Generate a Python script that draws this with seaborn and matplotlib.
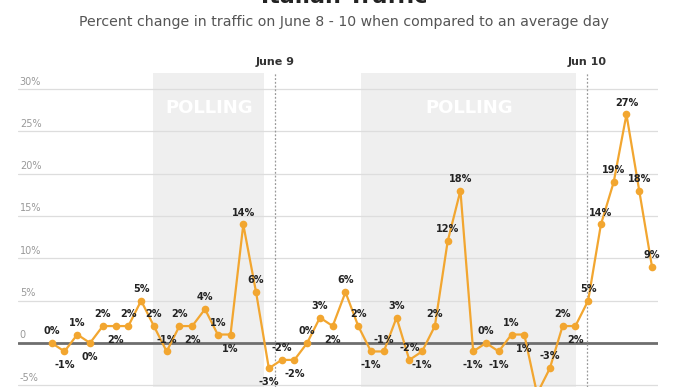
import matplotlib
matplotlib.use("Agg")
import matplotlib.pyplot as plt
import seaborn as sns
import numpy as np

# =====================================================
# DATA
# =====================================================

hours = list(range(48))

traffic = [0, -1, 1, 0, 2, 2, 2, 5, 2, -1, 2, 2, 4, 1, 1,
           14, 6, -3, -2, -2, 0, 3, 2, 6, 2, -1, -1, 3, -2, -1,
           2, 12, 18, -1, 0, -1, 1, 1, -6, -3, 2, 2, 5, 14, 19,
           27, 18, 9]

# label side for each point: 1 = above, -1 = below
label_side = [1, -1, 1, -1, 1, -1, 1, 1, 1, 1, 1, -1, 1, 1, -1,
              1, 1, -1, 1, -1, 1, 1, -1, 1, 1, -1, 1, 1, 1, -1,
              1, 1, 1, -1, 1, -1, 1, -1, 1, 1, 1, -1, 1, 1, 1,
              1, 1, 1]

polling_spans = [(7.95, 16.65), (24.25, 41.05)]
day_marks = [17.5, 41.95]
day_labels = ["June 9", "Jun 10"]

yticks = [-5, 0, 5, 10, 15, 20, 25, 30]
ytick_labels = ["-5%", "0", "5%", "10%", "15%", "20%", "25%", "30%"]

ORANGE = "#F2A630"

# =====================================================
# PLOT
# =====================================================

sns.set_style("white")
plt.rcParams["font.family"] = ["DejaVu Sans"]

fig = plt.figure(figsize=(6.88, 3.87), dpi=100)
ax = fig.add_axes([18 / 688, 0, 640 / 688, 314 / 387])

ax.set_xlim(-2.64, 47.47)
ax.set_ylim(-5.2, 31.9)

for a, b in polling_spans:
    ax.axvspan(a, b, color="#EFEFEF", zorder=0, lw=0)
    ax.text((a + b) / 2, 27.8, "POLLING", color="white",
            fontsize=13, fontweight="bold", ha="center", va="center", zorder=1)

for yv in yticks:
    if yv != 0:
        ax.axhline(yv, color="#DDDDDD", lw=0.9, zorder=1)
ax.axhline(0, color="#6E6E6E", lw=2, zorder=2)

for yv, lab in zip(yticks, ytick_labels):
    ax.text(-2.5, yv + 0.3, lab, color="#999999", fontsize=7,
            ha="left", va="bottom", zorder=3)

for xv in day_marks:
    ax.axvline(xv, color="#999999", lw=0.9, ls=(0, (1.5, 1.5)), zorder=2)

for xv, lab in zip(day_marks, day_labels):
    ax.text(xv, 32.6, lab, fontsize=8, fontweight="bold", color="#333333",
            ha="center", va="bottom", clip_on=False)

sns.lineplot(x=hours, y=traffic, ax=ax, color=ORANGE, lw=1.6,
             marker="o", markersize=5.5, markeredgewidth=0,
             markerfacecolor=ORANGE, zorder=4)

for xv, yv, side in zip(hours, traffic, label_side):
    ax.annotate(f"{yv}%", (xv, yv),
                xytext=(0, 5 if side > 0 else -6.5),
                textcoords="offset points",
                ha="center", va="bottom" if side > 0 else "top",
                fontsize=7, fontweight="bold", color="#222222", zorder=5)

ax.set_xticks([])
ax.set_yticks([])
ax.set_xlabel("")
ax.set_ylabel("")
sns.despine(ax=ax, left=True, bottom=True)

# title sits mostly above the frame, as in the reference crop
fig.text(0.5, 0.9925, "Italian Traffic", fontsize=16, fontweight="bold",
         color="#222222", ha="center", va="baseline")
fig.text(0.5, 0.943,
         "Percent change in traffic on June 8 - 10 when compared to an average day",
         fontsize=10.2, color="#555555", ha="center", va="center")

fig.savefig("out.png", dpi=100)
